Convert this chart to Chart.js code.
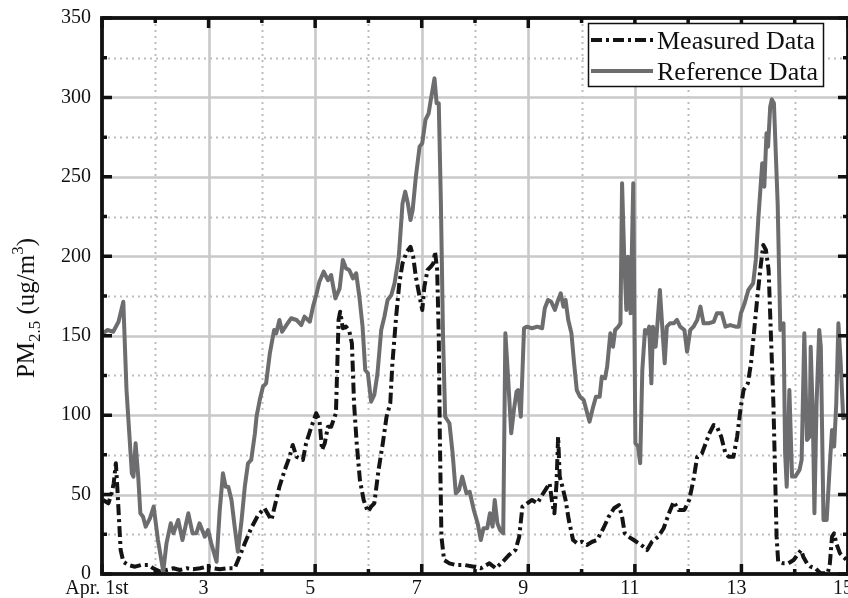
<!DOCTYPE html>
<html>
<head>
<meta charset="utf-8">
<title>PM2.5 measured vs reference</title>
<script src="https://cdn.jsdelivr.net/npm/chart.js@4.4.1/dist/chart.umd.min.js"></script>
<style>
  html, body { margin: 0; padding: 0; background: #ffffff; }
  canvas { display: block; }
</style>
</head>
<body>
<canvas id="pm" width="848" height="598"></canvas>
<script>
// Day of month (April) and PM2.5 concentration, ug/m3
const measuredDays = [
  1.02, 1.12, 1.18, 1.22, 1.26, 1.29, 1.32, 1.35, 1.40, 1.49, 1.62, 1.74, 1.87, 1.96,
  2.09, 2.21, 2.34, 2.46, 2.59, 2.71, 2.84, 2.96, 3.08, 3.21, 3.34, 3.49, 3.58, 3.68,
  3.80, 3.93, 4.05, 4.18, 4.24, 4.33, 4.43, 4.52, 4.58, 4.65, 4.77, 4.83, 4.93, 5.02,
  5.08, 5.13, 5.18, 5.24, 5.30, 5.39, 5.44, 5.47, 5.52, 5.58, 5.64, 5.69, 5.73, 5.78,
  5.84, 5.91, 5.99, 6.05, 6.11, 6.19, 6.27, 6.34, 6.41, 6.45, 6.52, 6.58, 6.64, 6.72,
  6.79, 6.84, 6.89, 6.96, 7.01, 7.05, 7.11, 7.17, 7.22, 7.25, 7.29, 7.32, 7.34, 7.37,
  7.42, 7.52, 7.64, 7.80, 7.98, 8.11, 8.27, 8.39, 8.52, 8.64, 8.76, 8.83, 8.89, 8.98,
  9.07, 9.17, 9.26, 9.34, 9.40, 9.45, 9.49, 9.53, 9.56, 9.59, 9.64, 9.70, 9.76, 9.84,
  9.92, 10.01, 10.10, 10.20, 10.29, 10.41, 10.51, 10.61, 10.70, 10.76, 10.81, 10.88,
  10.98, 11.07, 11.16, 11.23, 11.32, 11.44, 11.54, 11.64, 11.73, 11.82, 11.93, 12.02,
  12.10, 12.17, 12.26, 12.33, 12.40, 12.48, 12.54, 12.62, 12.70, 12.76, 12.85, 12.92,
  12.98, 13.04, 13.12, 13.18, 13.24, 13.30, 13.36, 13.41, 13.46, 13.51, 13.55, 13.60,
  13.63, 13.66, 13.69, 13.79, 13.88, 13.98, 14.05, 14.12, 14.16, 14.23, 14.30, 14.39,
  14.48, 14.62, 14.66, 14.70, 14.74, 14.78, 14.85, 14.91, 14.97
];
const measuredValues = [
  46.6, 44.5, 50.8, 57.1, 69.7, 52.9, 34.0, 15.1, 7.7, 5.7, 4.6, 5.7, 5.7, 3.6,
  1.5, 2.5, 3.6, 2.5, 3.6, 3.0, 3.6, 4.6, 3.6, 3.0, 3.6, 3.6, 10.9, 19.3,
  28.8, 37.1, 41.4, 34.0, 42.4, 55.0, 65.5, 73.8, 81.2, 73.8, 71.8, 82.3, 92.7, 101.2,
  96.9, 78.1, 82.3, 92.7, 92.7, 101.2, 159.9, 165.1, 154.7, 155.7, 153.0, 145.2, 107.5, 82.3,
  59.2, 46.6, 39.2, 42.4, 44.5, 65.5, 82.3, 99.0, 107.5, 132.6, 162.0, 183.0, 195.6, 202.9,
  206.0, 199.7, 187.1, 174.6, 166.2, 180.9, 191.4, 193.4, 195.6, 202.9, 191.4, 149.4, 86.5, 23.5,
  8.8, 6.7, 5.7, 5.7, 4.6, 3.6, 6.7, 3.6, 7.7, 12.0, 15.1, 23.5, 42.4, 44.5,
  46.6, 44.5, 49.7, 53.9, 57.1, 44.5, 38.2, 57.1, 86.5, 61.3, 55.0, 46.6, 34.0, 21.4,
  19.3, 20.3, 18.3, 20.3, 21.4, 28.8, 36.1, 41.4, 43.4, 36.1, 25.6, 23.5,
  21.4, 19.3, 17.2, 15.1, 20.3, 23.5, 28.8, 38.2, 45.5, 40.3, 40.3, 46.6,
  59.2, 73.8, 76.0, 82.3, 88.6, 93.8, 92.7, 86.5, 76.0, 73.8, 73.8, 86.5,
  103.2, 115.8, 120.0, 132.6, 153.6, 174.6, 193.4, 207.1, 204.0, 191.4, 153.6, 107.5,
  65.5, 23.5, 7.7, 6.7, 6.7, 8.8, 12.0, 15.1, 10.9, 6.7, 4.6, 3.6,
  0.5, 0.5, 6.7, 23.5, 25.6, 19.3, 13.0, 10.9, 9.0
];

const referenceDays = [
  1.02, 1.10, 1.21, 1.31, 1.40, 1.46, 1.56, 1.59, 1.63, 1.68, 1.72, 1.77, 1.82, 1.90,
  1.97, 2.05, 2.15, 2.21, 2.29, 2.34, 2.43, 2.51, 2.62, 2.70, 2.77, 2.83, 2.93, 2.99,
  3.05, 3.15, 3.21, 3.27, 3.32, 3.37, 3.43, 3.49, 3.55, 3.62, 3.68, 3.74, 3.80, 3.87,
  3.90, 3.96, 4.02, 4.08, 4.15, 4.23, 4.27, 4.33, 4.38, 4.46, 4.55, 4.65, 4.74, 4.80,
  4.90, 4.96, 5.02, 5.08, 5.16, 5.24, 5.30, 5.38, 5.46, 5.52, 5.58, 5.64, 5.71, 5.77,
  5.83, 5.89, 5.94, 5.99, 6.05, 6.11, 6.17, 6.24, 6.30, 6.36, 6.43, 6.49, 6.57, 6.64,
  6.69, 6.74, 6.79, 6.83, 6.89, 6.96, 7.01, 7.07, 7.13, 7.17, 7.24, 7.28, 7.32, 7.36,
  7.40, 7.44, 7.52, 7.58, 7.64, 7.70, 7.76, 7.84, 7.90, 7.98, 8.05, 8.11, 8.16, 8.23,
  8.28, 8.33, 8.37, 8.42, 8.47, 8.53, 8.57, 8.62, 8.68, 8.73, 8.78, 8.81, 8.86, 8.92,
  8.97, 9.07, 9.17, 9.26, 9.31, 9.37, 9.43, 9.50, 9.56, 9.61, 9.66, 9.70, 9.75, 9.81,
  9.86, 9.91, 9.97, 10.04, 10.09, 10.15, 10.21, 10.27, 10.34, 10.38, 10.44, 10.48,
  10.54, 10.59, 10.63, 10.69, 10.73, 10.76, 10.80, 10.84, 10.87, 10.92, 10.97, 11.01,
  11.06, 11.10, 11.14, 11.19, 11.23, 11.27, 11.31, 11.34, 11.39, 11.42, 11.47, 11.51,
  11.56, 11.60, 11.66, 11.73, 11.79, 11.85, 11.93, 11.98, 12.04, 12.10, 12.17, 12.23,
  12.29, 12.38, 12.48, 12.54, 12.63, 12.70, 12.79, 12.89, 12.95, 12.99, 13.06, 13.13,
  13.22, 13.27, 13.32, 13.39, 13.43, 13.47, 13.50, 13.54, 13.57, 13.61, 13.68, 13.73,
  13.76, 13.79, 13.82, 13.85, 13.90, 13.95, 14.01, 14.09, 14.13, 14.18, 14.23, 14.28,
  14.30, 14.34, 14.37, 14.41, 14.46, 14.49, 14.54, 14.60, 14.66, 14.70, 14.74, 14.78,
  14.82, 14.86, 14.91, 14.97
];
const referenceValues = [
  151.5, 153.6, 152.5, 158.8, 171.4, 115.8, 63.4, 61.3, 82.3, 61.3, 38.2, 36.1, 29.8, 35.0,
  42.4, 21.4, 1.5, 19.3, 31.9, 25.6, 34.0, 21.4, 38.2, 25.6, 25.6, 31.9, 23.5, 27.7,
  19.3, 7.7, 40.3, 63.4, 55.0, 55.0, 46.6, 29.8, 14.0, 34.0, 55.0, 69.7, 71.8, 88.6,
  99.0, 109.5, 117.9, 120.0, 138.9, 153.6, 151.5, 159.9, 152.5, 156.7, 161.0, 159.9, 156.7, 162.0,
  158.8, 168.3, 175.6, 184.0, 190.3, 185.0, 188.2, 173.5, 179.8, 197.7, 192.4, 191.4, 186.1, 189.3,
  174.6, 155.7, 128.4, 126.3, 108.5, 112.7, 126.3, 153.6, 162.0, 172.5, 175.6, 183.0, 199.7, 233.3,
  240.7, 233.3, 222.8, 229.1, 250.1, 269.0, 271.1, 285.8, 290.0, 298.4, 312.0, 296.3, 296.3, 233.3,
  149.4, 99.0, 94.9, 76.0, 50.8, 52.9, 61.3, 50.8, 51.8, 40.0, 31.9, 21.4, 28.8, 28.8,
  38.2, 29.8, 46.6, 31.9, 27.7, 25.6, 151.5, 124.2, 88.6, 103.2, 114.8, 115.8, 99.0, 154.7,
  155.7, 154.7, 155.7, 154.7, 167.3, 172.5, 171.4, 166.2, 172.5, 176.7, 168.3, 172.5, 159.9, 151.5,
  132.6, 115.8, 111.6, 109.5, 103.2, 95.9, 104.3, 111.6, 111.6, 124.2, 123.2, 130.5,
  151.5, 143.1, 153.6, 155.7, 157.8, 245.9, 199.7, 166.2, 199.7, 164.1, 245.9, 82.3,
  80.2, 69.7, 128.4, 153.6, 151.5, 155.7, 120.0, 155.7, 143.1, 155.7, 178.8, 157.8,
  132.6, 155.7, 157.8, 157.8, 159.9, 155.7, 153.6, 139.9, 153.6, 155.7, 159.9, 168.3,
  157.8, 157.8, 158.8, 164.1, 164.1, 155.7, 156.7, 155.7, 155.7, 164.1, 170.4, 178.8,
  183.0, 197.7, 224.9, 258.5, 243.8, 277.4, 269.0, 294.2, 298.8, 296.3, 233.3, 153.6,
  156.7, 157.8, 76.0, 55.0, 115.8, 61.3, 61.3, 65.5, 71.8, 151.5, 84.4, 86.5,
  143.1, 99.0, 38.2, 107.5, 153.6, 143.1, 34.0, 34.0, 69.7, 90.6, 80.2, 107.5,
  157.8, 134.7, 98.0, 99.0
];

// Axis labelling
const xTickDays = [1, 3, 5, 7, 9, 11, 13, 15];
const xTickText = ['Apr. 1st', '3', '5', '7', '9', '11', '13', '15'];
const seriesNames = ['Measured Data', 'Reference Data'];

const SERIF = "'Liberation Serif', 'Times New Roman', serif";
const toPoints = (days, vals) => days.map((d, i) => ({ x: d, y: vals[i] }));

// Light grid: solid on major steps, dotted on minor steps
const gridPlugin = {
  id: 'matlabGrid',
  beforeDatasetsDraw(chart) {
    const { ctx, chartArea: a, scales: { x, y } } = chart;
    ctx.save();
    for (let d = Math.ceil(x.min); d <= x.max; d++) {
      if (d === x.min || d === x.max) continue;
      const px = Math.round(x.getPixelForValue(d)) + 0.5;
      const major = (d - 1) % 2 === 0;
      ctx.beginPath();
      ctx.strokeStyle = major ? '#c9c9c9' : '#bdbdbd';
      ctx.lineWidth = major ? 2.6 : 2;
      ctx.setLineDash(major ? [] : [2, 4]);
      ctx.moveTo(px, a.top);
      ctx.lineTo(px, a.bottom);
      ctx.stroke();
    }
    for (let v = y.min; v <= y.max; v += 25) {
      if (v === y.min || v === y.max) continue;
      const py = Math.round(y.getPixelForValue(v)) + 0.5;
      const major = v % 50 === 0;
      ctx.beginPath();
      ctx.strokeStyle = major ? '#c9c9c9' : '#bdbdbd';
      ctx.lineWidth = major ? 2.6 : 2;
      ctx.setLineDash(major ? [] : [2, 4]);
      ctx.moveTo(a.left, py);
      ctx.lineTo(a.right, py);
      ctx.stroke();
    }
    ctx.restore();
  }
};

// Boxed axes with inward tick marks, legend and axis title
const boxPlugin = {
  id: 'matlabBox',
  afterDatasetsDraw(chart) {
    const { ctx, chartArea: a, scales: { x, y } } = chart;
    ctx.save();
    ctx.strokeStyle = '#111111';
    ctx.setLineDash([]);
    ctx.lineWidth = 3.5;
    ctx.lineCap = 'butt';
    for (let d = Math.ceil(x.min); d <= x.max; d++) {
      const px = x.getPixelForValue(d);
      const len = (d - 1) % 2 === 0 ? 10 : 5;
      ctx.beginPath();
      ctx.moveTo(px, a.bottom); ctx.lineTo(px, a.bottom - len);
      ctx.moveTo(px, a.top); ctx.lineTo(px, a.top + len);
      ctx.stroke();
    }
    for (let v = y.min; v <= y.max; v += 25) {
      const py = y.getPixelForValue(v);
      const len = v % 50 === 0 ? 10 : 5;
      ctx.beginPath();
      ctx.moveTo(a.left, py); ctx.lineTo(a.left + len, py);
      ctx.moveTo(a.right, py); ctx.lineTo(a.right - len, py);
      ctx.stroke();
    }
    ctx.lineWidth = 3.8;
    ctx.strokeRect(a.left, a.top, a.right - a.left, a.bottom - a.top);
    ctx.restore();
  },
  afterDraw(chart) {
    const { ctx } = chart;
    // Legend box in the upper right corner
    ctx.save();
    const bx = 588.5, by = 23.5, bw = 235, bh = 63;
    ctx.fillStyle = '#ffffff';
    ctx.fillRect(bx, by, bw, bh);
    ctx.strokeStyle = '#111111';
    ctx.lineWidth = 1.5;
    ctx.strokeRect(bx, by, bw, bh);
    const rows = [40, 71];
    chart.data.datasets.forEach((ds, i) => {
      ctx.beginPath();
      ctx.strokeStyle = ds.borderColor;
      ctx.lineWidth = ds.borderWidth;
      ctx.setLineDash(ds.borderDash || []);
      ctx.moveTo(591, rows[i]);
      ctx.lineTo(653, rows[i]);
      ctx.stroke();
      ctx.setLineDash([]);
      ctx.fillStyle = '#111111';
      ctx.font = '26px ' + SERIF;
      ctx.textBaseline = 'alphabetic';
      ctx.textAlign = 'left';
      ctx.fillText(ds.label, 657, rows[i] + 9);
    });

    // Rotated y-axis title: PM_2.5 (ug/m^3)
    const parts = [
      { t: 'PM', size: 25, dy: 0 },
      { t: '2.5', size: 17, dy: 6 },
      { t: ' (ug/m', size: 25, dy: 0 },
      { t: '3', size: 17, dy: -11 },
      { t: ')', size: 25, dy: 0 }
    ];
    let total = 0;
    parts.forEach(p => { ctx.font = p.size + 'px ' + SERIF; p.w = ctx.measureText(p.t).width; total += p.w; });
    ctx.translate(34, 308);
    ctx.rotate(-Math.PI / 2);
    ctx.fillStyle = '#111111';
    ctx.textAlign = 'left';
    ctx.textBaseline = 'alphabetic';
    let cx = -total / 2;
    parts.forEach(p => {
      ctx.font = p.size + 'px ' + SERIF;
      ctx.fillText(p.t, cx, p.dy);
      cx += p.w;
    });
    ctx.restore();
  }
};

new Chart(document.getElementById('pm'), {
  type: 'line',
  data: {
    datasets: [
      {
        label: seriesNames[0],
        data: toPoints(measuredDays, measuredValues),
        borderColor: '#141414',
        borderWidth: 4,
        borderDash: [11, 4, 3, 4],
        borderCapStyle: 'butt',
        borderJoinStyle: 'round',
        pointRadius: 0,
        tension: 0,
        fill: false,
        order: 2
      },
      {
        label: seriesNames[1],
        data: toPoints(referenceDays, referenceValues),
        borderColor: '#6d6d70',
        borderWidth: 4,
        borderJoinStyle: 'round',
        pointRadius: 0,
        tension: 0,
        fill: false,
        order: 1
      }
    ]
  },
  options: {
    responsive: false,
    animation: false,
    devicePixelRatio: 1,
    layout: { padding: { top: 18, right: 0, bottom: 0, left: 0 } },
    plugins: { legend: { display: false }, tooltip: { enabled: false } },
    scales: {
      x: {
        type: 'linear',
        min: 1,
        max: 15,
        grid: { display: false, drawTicks: false },
        border: { display: false },
        afterBuildTicks: s => { s.ticks = xTickDays.map(v => ({ value: v })); },
        ticks: {
          autoSkip: false,
          maxRotation: 0,
          padding: 3,
          labelOffset: -5,
          color: '#111111',
          font: { family: SERIF, size: 20 },
          callback: (v, i) => xTickText[i]
        },
        afterFit: s => { s.height = 24; s.paddingLeft = 0; s.paddingRight = 0; }
      },
      y: {
        min: 0,
        max: 350,
        grid: { display: false, drawTicks: false },
        border: { display: false },
        ticks: {
          stepSize: 50,
          padding: 11,
          color: '#111111',
          font: { family: SERIF, size: 20 }
        },
        afterFit: s => { s.width = 102; s.paddingTop = 0; s.paddingBottom = 0; }
      }
    }
  },
  plugins: [gridPlugin, boxPlugin]
});
</script>
</body>
</html>
